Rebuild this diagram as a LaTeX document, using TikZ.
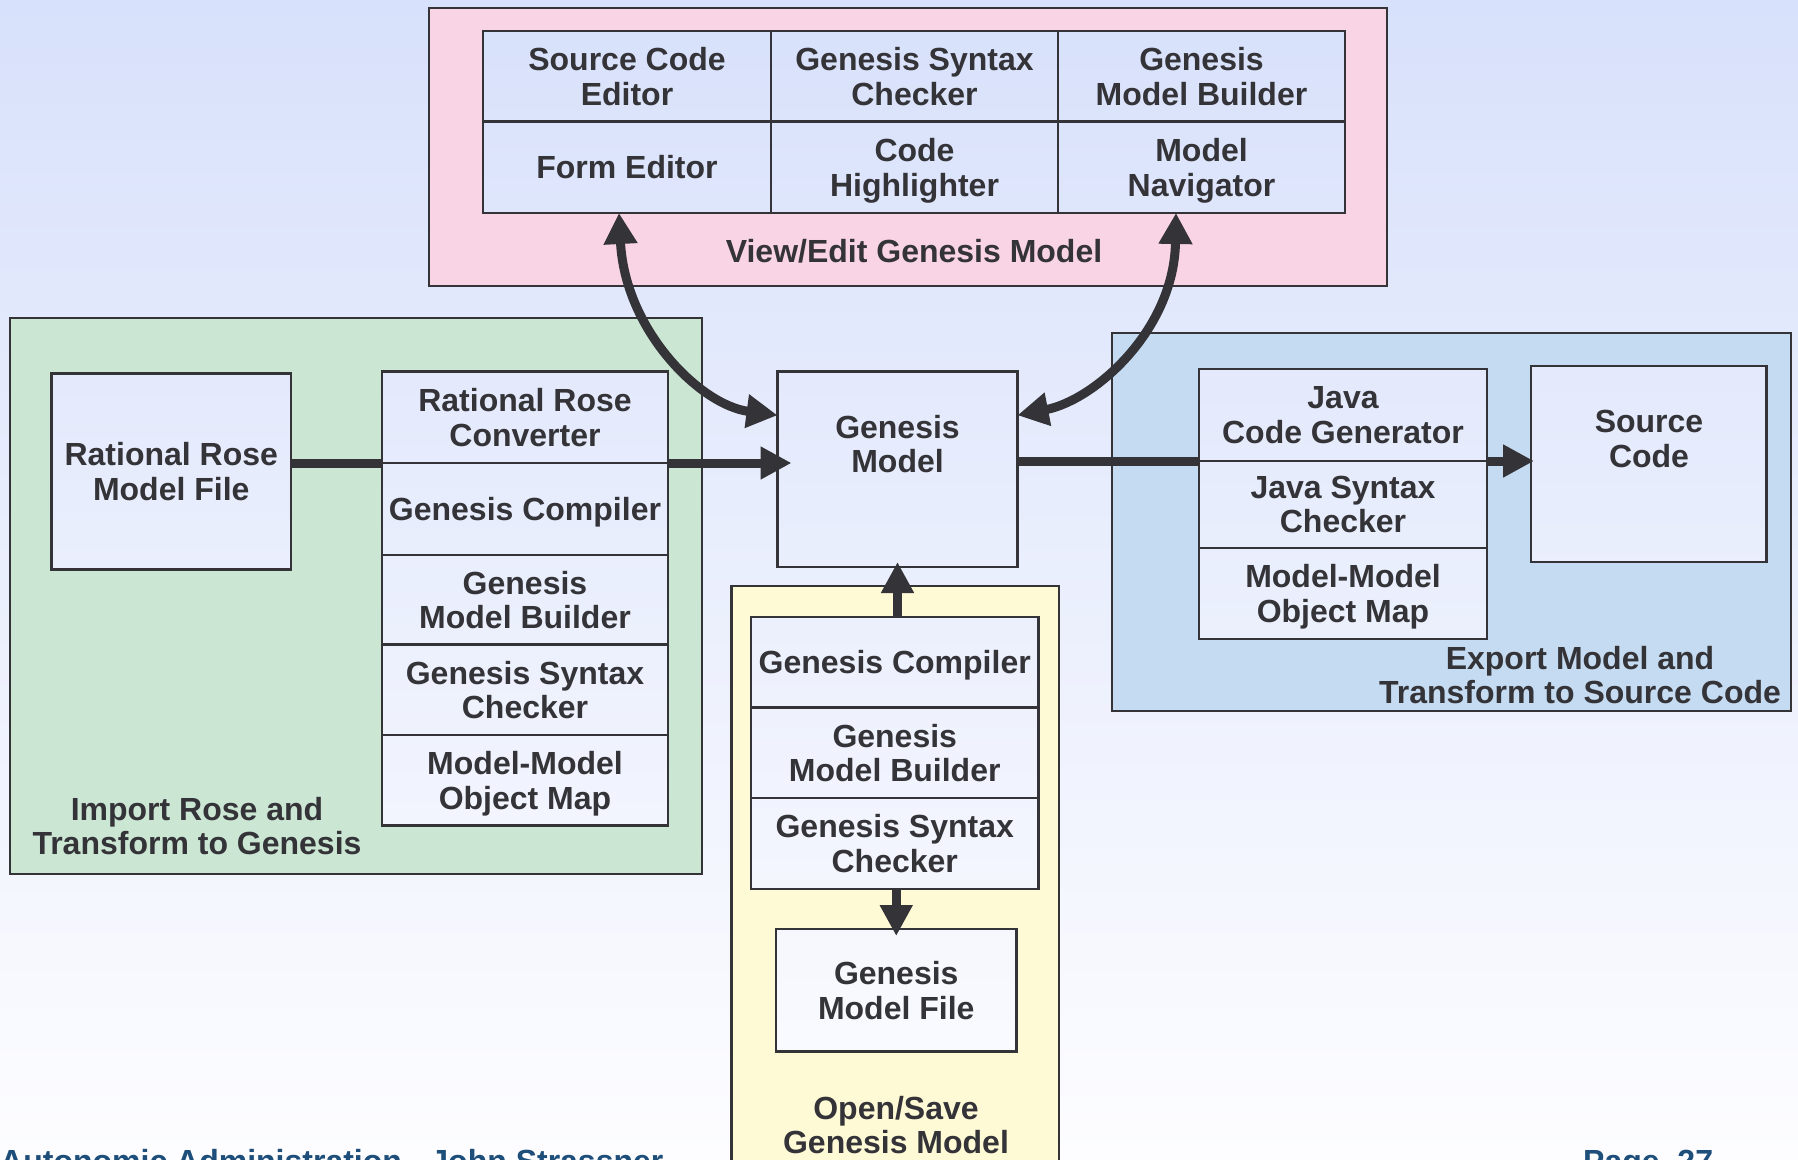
\documentclass[tikz,border=0pt]{standalone}
\usepackage{fontspec}
\setmainfont{Liberation Sans}
\usetikzlibrary{arrows.meta}
\definecolor{bgtop}{RGB}{216,225,251}
\definecolor{bgbot}{RGB}{253,253,255}
\definecolor{ink}{RGB}{51,51,56}
\definecolor{pinkgrp}{RGB}{249,212,228}
\definecolor{greengrp}{RGB}{204,230,212}
\definecolor{bluegrp}{RGB}{197,219,241}
\definecolor{yellowgrp}{RGB}{255,250,214}
\definecolor{footblue}{RGB}{30,78,122}
\newcommand\lblfont{\fontsize{32}{34.4}\selectfont\bfseries}
\tikzset{
  cell/.style={draw=ink, line width=2.5pt, inner sep=0pt, outer sep=0pt, align=center, text=ink, font=\lblfont, text depth=0pt},
  group/.style={draw=ink, line width=2.5pt, inner sep=0pt, outer sep=0pt},
  grplabel/.style={align=center, text=ink, font=\lblfont, inner sep=0pt},
  footer/.style={anchor=base west, text=footblue, font=\lblfont, inner sep=0pt},
  conn/.style={draw=ink, line width=9pt},
  tipped/.style={conn, -{Triangle[length=31pt,width=31pt]}},
  both/.style={conn, {Triangle[length=31pt,width=32pt]}-{Triangle[length=31pt,width=32pt]}},
}
\newcommand\cellnode[6]{%
  \pgfmathtruncatemacro\ptop{(#3-#5/2)/11.59}%
  \pgfmathtruncatemacro\pbot{(#3+#5/2)/11.59}%
  \node[cell, top color=bgbot!\ptop!bgtop, bottom color=bgbot!\pbot!bgtop,
        minimum width=#4pt, minimum height=#5pt] (#1) at (#2,#3) {#6};}
\begin{document}
\begin{tikzpicture}[x=1pt,y=-1pt]
\useasboundingbox (0,0) rectangle (1798,1159);
\clip (0,0) rectangle (1798,1159);
\shade[top color=bgtop, bottom color=bgbot] (0,0) rectangle (1798,1159);

% groups
\node[group, fill=pinkgrp, minimum width=958pt, minimum height=278pt] (viewgrp) at (908,147) {};
\node[group, fill=greengrp, minimum width=692pt, minimum height=556pt] (importgrp) at (356,596) {};
\node[group, fill=bluegrp, minimum width=679pt, minimum height=378pt] (exportgrp) at (1451.5,522) {};
\node[group, fill=yellowgrp, minimum width=327.4pt, minimum height=614pt] (opengrp) at (895.3,893) {};

% view/edit grid
\cellnode{sce}{627}{76.25}{288}{90.5}{Source Code\\Editor}
\cellnode{gsc1}{914.5}{76.25}{287}{90.5}{Genesis Syntax\\Checker}
\cellnode{gmb1}{1201.5}{76.25}{287}{90.5}{Genesis\\Model Builder}
\cellnode{fe}{627}{167.25}{288}{91.5}{Form Editor}
\cellnode{ch}{914.5}{167.25}{287}{91.5}{Code\\Highlighter}
\cellnode{mn}{1201.5}{167.25}{287}{91.5}{Model\\Navigator}
\node[grplabel] (viewlbl) at (914,251) {View/Edit Genesis Model};

% import
\cellnode{rrmf}{171.25}{471.5}{239.5}{196}{Rational Rose\\Model File}
\cellnode{rrc}{525}{417.25}{286}{91.5}{Rational Rose\\Converter}
\cellnode{gc1}{525}{509}{286}{92}{Genesis Compiler}
\cellnode{gmb2}{525}{599.75}{286}{89.5}{Genesis\\Model Builder}
\cellnode{gsc2}{525}{689.75}{286}{90.5}{Genesis Syntax\\Checker}
\cellnode{mmom1}{525}{780.25}{286}{90.5}{Model-Model\\Object Map}
\node[grplabel] (importlbl) at (197,826) {Import Rose and\\Transform to Genesis};

% genesis model
\cellnode{gm}{897.5}{469.25}{240}{195.5}{}
\node[grplabel] (gmtxt) at (897.5,444) {Genesis\\Model};

% export
\cellnode{jcg}{1343}{415}{288}{92}{Java\\Code Generator}
\cellnode{jsc}{1343}{504.5}{288}{87}{Java Syntax\\Checker}
\cellnode{mmom2}{1343}{593.5}{288}{91}{Model-Model\\Object Map}
\cellnode{sc}{1648.75}{464}{235.5}{196}{}
\node[grplabel] (sctxt) at (1649,439) {Source\\Code};
\node[grplabel] (exportlbl) at (1580,675) {Export Model and\\Transform to Source Code};

% open/save
\cellnode{gc2}{894.75}{662.25}{287.5}{90.5}{Genesis Compiler}
\cellnode{gmb3}{894.75}{752.75}{287.5}{90.5}{Genesis\\Model Builder}
\cellnode{gsc3}{894.75}{843.5}{287.5}{91}{Genesis Syntax\\Checker}
\cellnode{gmf}{896.25}{990.25}{240.5}{122.5}{Genesis\\Model File}
\node[grplabel] (openlbl) at (896,1125) {Open/Save\\Genesis Model};

% connectors
\draw[conn] (rrmf.east |- rrc.south) -- (rrc.south west);
\draw[tipped, shorten >=-14pt] (rrc.south east) -- (gm.west |- rrc.south east);
\draw[conn] (gm.east |- jcg.south west) -- (jcg.south west);
\draw[tipped, shorten >=-3pt] (jcg.south east) -- (sc.west |- jcg.south east);
\draw[tipped, shorten >=-5pt] (gm.south |- gc2.north) -- (gm.south);
\draw[tipped, shorten >=-7pt] (gmf.north |- gsc3.south) -- (gmf.north);
\draw[both] ([xshift=-8pt]fe.south) .. controls (625,330) and (700,405) .. ([yshift=54pt]gm.west);
\draw[both] ([xshift=-25.5pt]mn.south) .. controls (1174,330) and (1095,400) .. ([yshift=54pt]gm.east);

% footer
\node[footer] (foot1) at (0,1172) {Autonomic Administration - John Strassner};
\node[footer] (foot2) at (1583,1172) {Page~~27};
\end{tikzpicture}
\end{document}
